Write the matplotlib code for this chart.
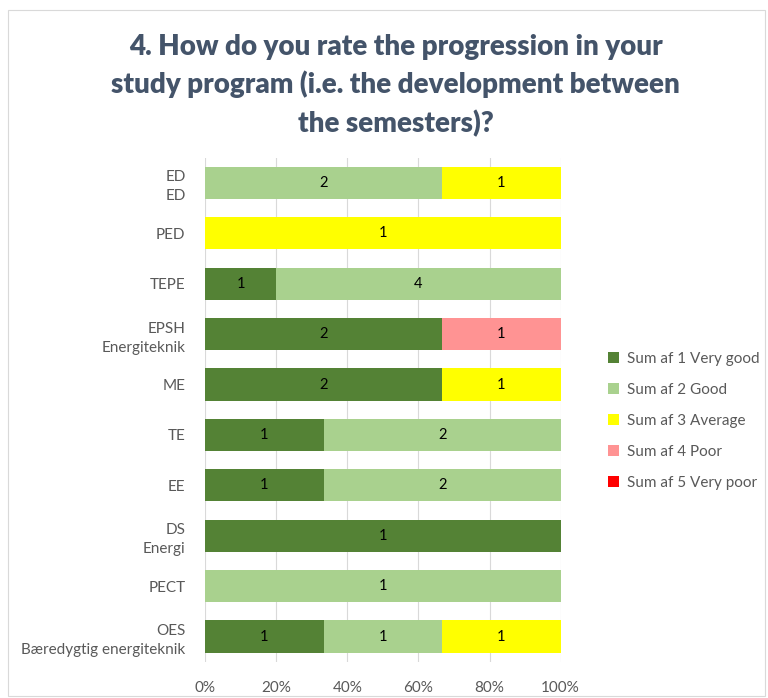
import numpy as np
import matplotlib.pyplot as plt
from matplotlib.patches import Rectangle

programs = ['ED\nED', 'PED', 'TEPE', 'EPSH\nEnergiteknik', 'ME', 'TE', 'EE',
            'DS\nEnergi', 'PECT', 'OES\nBæredygtig energiteknik']
very_good = [0, 0, 1, 2, 2, 1, 1, 1, 0, 1]
good = [2, 0, 4, 0, 0, 2, 2, 0, 1, 1]
average = [1, 1, 0, 0, 1, 0, 0, 0, 0, 1]
poor = [0, 0, 0, 1, 0, 0, 0, 0, 0, 0]
very_poor = [0, 0, 0, 0, 0, 0, 0, 0, 0, 0]

series = ['Sum af 1 Very good', 'Sum af 2 Good', 'Sum af 3 Average',
          'Sum af 4 Poor', 'Sum af 5 Very poor']
colors = ['#548235', '#A9D18E', '#FFFF00', '#FF9393', '#FF0000']

plt.rcParams['font.family'] = ['Lato', 'DejaVu Sans']

counts = np.array([very_good, good, average, poor, very_poor], dtype=float)
totals = counts.sum(axis=0)
shares = counts / totals * 100

fig = plt.figure(figsize=(7.68, 6.98), dpi=100)
fig.patches.append(Rectangle((0.011, 0.003), 0.985, 0.983, transform=fig.transFigure,
                             fill=False, edgecolor='#D9D9D9', linewidth=0.8))
ax = fig.add_axes([0.267, 0.052, 0.463, 0.722])

y = np.arange(len(programs))
left = np.zeros(len(programs))
for i in range(len(series)):
    ax.barh(y, shares[i], left=left, height=0.64, color=colors[i], label=series[i], zorder=3)
    for j in range(len(programs)):
        if counts[i, j] > 0:
            ax.text(left[j] + shares[i, j] / 2, y[j], '%d' % counts[i, j],
                    ha='center', va='center', fontsize=10.5, color='black', zorder=4)
    left += shares[i]

ax.set_xlim(0, 100)
ax.set_ylim(len(programs) - 0.5, -0.5)
ax.set_yticks(y)
ax.set_yticklabels(programs, fontsize=11, color='#595959', linespacing=1.45)
ax.set_xticks([0, 20, 40, 60, 80, 100])
ax.set_xticklabels(['0%', '20%', '40%', '60%', '80%', '100%'], fontsize=11, color='#595959')
ax.tick_params(axis='y', length=0, pad=14)
ax.tick_params(axis='x', length=0, pad=14)
ax.xaxis.grid(True, color='#D9D9D9', linewidth=0.8, zorder=0)
for s in ax.spines.values():
    s.set_visible(False)

fig.text(0.515, 0.952, '4. How do you rate the progression in your\nstudy program (i.e. the development between\nthe semesters)?',
         ha='center', va='top', fontsize=20, fontweight='heavy', color='#44546A', linespacing=1.5)

ax.legend(loc='center left', bbox_to_anchor=(1.095, 0.478), frameon=False, fontsize=11,
          labelcolor='#595959', handlelength=0.7, handleheight=0.7, labelspacing=1.12,
          handletextpad=0.5)

fig.savefig('out.png', dpi=100)
